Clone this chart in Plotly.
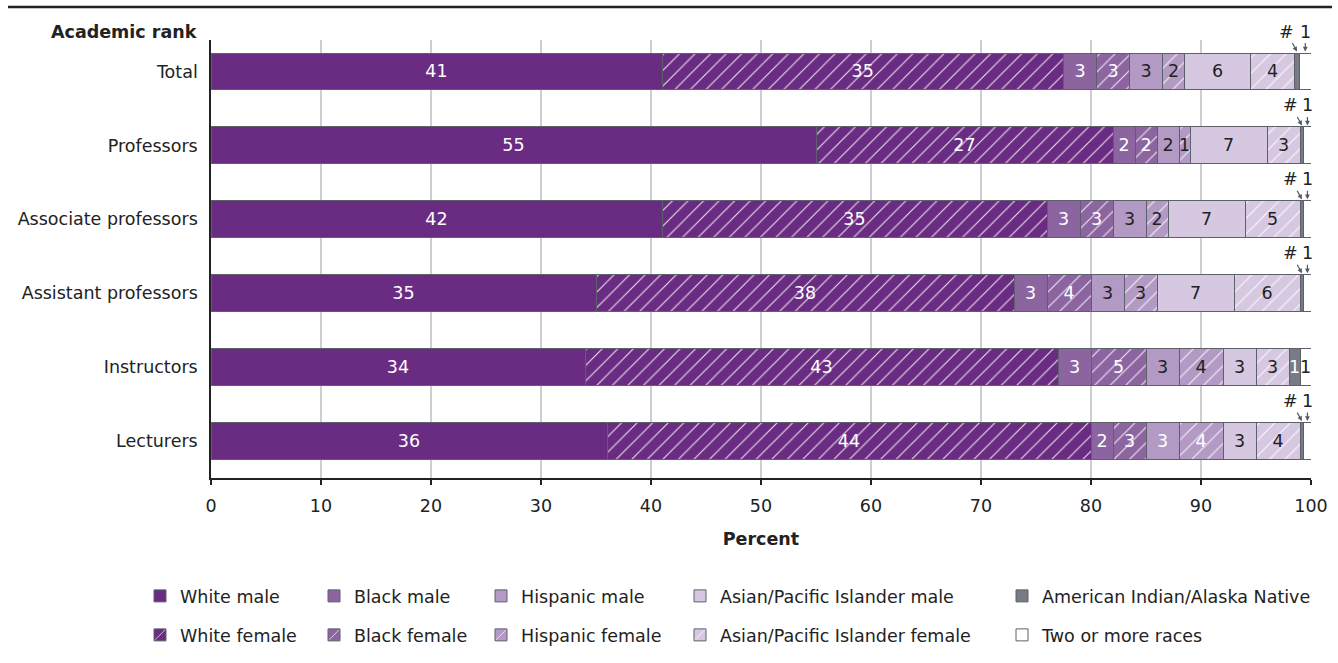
import plotly.graph_objects as go

# ---------------- data ----------------
categories = ["Total", "Professors", "Associate professors", "Assistant professors",
              "Instructors", "Lecturers"]

series_names = ["White male", "White female", "Black male", "Black female",
                "Hispanic male", "Hispanic female", "Asian/Pacific Islander male",
                "Asian/Pacific Islander female", "American Indian/Alaska Native",
                "Two or more races"]

# segment widths as drawn (percent)
white_male = [41, 55, 41, 35, 34, 36]
white_female = [36.5, 27, 35, 38, 43, 44]
black_male = [3, 2, 3, 3, 3, 2]
black_female = [3, 2, 3, 4, 5, 3]
hispanic_male = [3, 2, 3, 3, 3, 3]
hispanic_female = [2, 1, 2, 3, 4, 4]
api_male = [6, 7, 7, 7, 3, 3]
api_female = [4, 3, 5, 6, 3, 4]
amind = [0.46, 0.35, 0.35, 0.35, 1, 0.35]
two_more = [1.04, 0.65, 0.65, 0.65, 1, 0.65]

# printed labels
lbl_white_male = ["41", "55", "42", "35", "34", "36"]
lbl_white_female = ["35", "27", "35", "38", "43", "44"]
lbl_black_male = ["3", "2", "3", "3", "3", "2"]
lbl_black_female = ["3", "2", "3", "4", "5", "3"]
lbl_hispanic_male = ["3", "2", "3", "3", "3", "3"]
lbl_hispanic_female = ["2", "1", "2", "3", "4", "4"]
lbl_api_male = ["6", "7", "7", "7", "3", "3"]
lbl_api_female = ["4", "3", "5", "6", "3", "4"]
lbl_amind = ["#", "#", "#", "#", "1", "#"]
lbl_two_more = ["1", "1", "1", "1", "1", "1"]

# rows where the last two labels are placed above the bar with arrows
callout_rows = [True, True, True, True, False, True]

x_ticks = [0, 10, 20, 30, 40, 50, 60, 70, 80, 90, 100]

# ---------------- styles ----------------
FONT = "DejaVu Sans"
FS = 17.5
DARK = "#222222"
colors = ["#6A2C82", "#6A2C82", "#8B64A0", "#8B64A0", "#B39AC4", "#B39AC4",
          "#D7C8E2", "#D7C8E2", "#767B85", "#FFFFFF"]
hatched = [False, True, False, True, False, True, False, True, False, False]

values = [white_male, white_female, black_male, black_female, hispanic_male,
          hispanic_female, api_male, api_female, amind, two_more]
labels = [lbl_white_male, lbl_white_female, lbl_black_male, lbl_black_female,
          lbl_hispanic_male, lbl_hispanic_female, lbl_api_male, lbl_api_female,
          lbl_amind, lbl_two_more]

W = "#FFFFFF"
textcolors = [
    [W] * 6, [W] * 6, [W] * 6, [W] * 6,
    [DARK, DARK, DARK, DARK, DARK, W],
    [DARK, DARK, DARK, DARK, DARK, W],
    [DARK] * 6, [DARK] * 6, [W] * 6, [DARK] * 6,
]

ypos = list(range(len(categories)))

fig = go.Figure()

legend_ids = ["legend", "legend2", "legend3", "legend4", "legend5",
              "legend6", "legend7", "legend8", "legend9", "legend10"]

for i, name in enumerate(series_names):
    vals = values[i]
    is_small = i >= 8
    txt = ["" if (is_small and callout_rows[r]) else labels[i][r] for r in range(len(vals))]
    marker = dict(color=colors[i], line=dict(color="#5C6068", width=1))
    if hatched[i]:
        marker["pattern"] = dict(shape="/", fgcolor="white", fgopacity=0.85,
                                 size=11, solidity=0.1, fillmode="overlay")
    fig.add_trace(go.Bar(
        y=ypos, x=vals, orientation="h", name=name,
        marker=marker, width=0.5, cliponaxis=False,
        text=txt, textposition="inside", insidetextanchor="middle",
        textfont=dict(family=FONT, size=FS, color=textcolors[i]),
        legend=legend_ids[i], hoverinfo="skip",
    ))

# small-segment callouts (# and 1) with arrows
for r in range(len(categories)):
    if not callout_rows[r]:
        continue
    cum = sum(values[i][r] for i in range(8))
    for i in (8, 9):
        v = values[i][r]
        center = cum + v / 2
        is_ai = (i == 8)
        fig.add_annotation(
            x=center, y=r - 0.27, xref="x", yref="y",
            text=labels[i][r], showarrow=True,
            ax=-11 if is_ai else 0, ay=-20,
            arrowhead=2, arrowsize=0.8, arrowwidth=1.2, arrowcolor="#555A62",
            font=dict(family=FONT, size=FS, color=DARK),
            standoff=0, startstandoff=0,
        )
        cum += v

# legends: 5 columns x 2 rows
col_left_px = [140, 314, 481, 680, 1002]
row_center_px = [596, 635]
PLOT_L, PLOT_R, PLOT_T, PLOT_B = 211, 1311, 40, 478
pw, ph = PLOT_R - PLOT_L, PLOT_B - PLOT_T
legend_layout = {}
for i, lid in enumerate(legend_ids):
    col = i // 2
    row = i % 2
    if i == 8:
        col, row = 4, 0
    if i == 9:
        col, row = 4, 1
    legend_layout[lid] = dict(
        x=(col_left_px[col] - PLOT_L) / pw, xanchor="left",
        y=(PLOT_B - row_center_px[row]) / ph, yanchor="middle",
        bgcolor="rgba(0,0,0,0)", font=dict(family=FONT, size=FS, color=DARK),
        orientation="v",
    )

fig.update_layout(
    width=1338, height=663,
    margin=dict(l=PLOT_L, r=1338 - PLOT_R, t=PLOT_T, b=663 - PLOT_B, autoexpand=False),
    barmode="stack",
    paper_bgcolor="white", plot_bgcolor="white",
    font=dict(family=FONT, size=FS, color=DARK),
    showlegend=True,
    uniformtext=dict(minsize=FS, mode="show"),
    xaxis=dict(
        range=[0, 100], tickvals=x_ticks, ticks="outside", ticklen=5, tickwidth=1.5,
        tickcolor=DARK, showline=True, linecolor=DARK, linewidth=1.5,
        showgrid=True, gridcolor="#CDCDD2", gridwidth=1.5, zeroline=False,
        tickfont=dict(family=FONT, size=FS, color=DARK), ticklabelstandoff=6,
        title=dict(text="<b>Percent</b>", font=dict(family=FONT, size=FS, color=DARK),
                   standoff=18),
        fixedrange=True,
    ),
    yaxis=dict(
        range=[5.5, -0.426], tickvals=ypos, ticktext=categories, ticks="",
        showline=True, linecolor=DARK, linewidth=1.5, showgrid=False, zeroline=False,
        tickfont=dict(family=FONT, size=FS, color=DARK), ticklabelstandoff=8,
        fixedrange=True,
    ),
    **legend_layout,
)

fig.add_annotation(
    text="<b>Academic rank</b>", xref="paper", yref="paper",
    x=(199 - PLOT_L) / pw, y=(PLOT_B - 32) / ph, xanchor="right", yanchor="middle",
    showarrow=False, font=dict(family=FONT, size=FS, color=DARK),
)

fig.add_shape(
    type="line", xref="paper", yref="paper",
    x0=(8 - PLOT_L) / pw, x1=(1332 - PLOT_L) / pw,
    y0=(PLOT_B - 7) / ph, y1=(PLOT_B - 7) / ph,
    line=dict(color=DARK, width=2.5),
)

fig.write_html("out.html", config={"displayModeBar": False},
               post_script="document.body.style.margin='0';")
